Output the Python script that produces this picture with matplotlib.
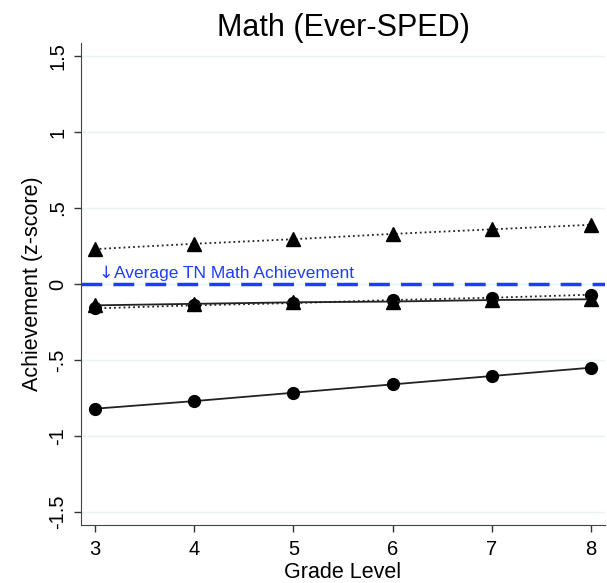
import matplotlib
matplotlib.use("Agg")
import matplotlib.pyplot as plt

plt.rcParams['font.family'] = ['Liberation Sans', 'DejaVu Sans']

grades = [3, 4, 5, 6, 7, 8]

# upper group, triangles on a dotted line
tri_dotted = [0.23, 0.265, 0.295, 0.33, 0.36, 0.39]
# middle group: triangles on a solid line, circles on a dotted line
tri_solid = [-0.14, -0.13, -0.12, -0.115, -0.105, -0.10]
circ_dotted = [-0.16, -0.14, -0.125, -0.105, -0.09, -0.07]
# lower group, circles on a solid line
circ_solid = [-0.82, -0.77, -0.715, -0.66, -0.605, -0.55]

yticks = [1.5, 1, 0.5, 0, -0.5, -1, -1.5]
ytick_labels = ["1.5", "1", ".5", "0", "-.5", "-1", "-1.5"]

fig = plt.figure(figsize=(6.07, 5.83), dpi=100)
ax = fig.add_axes([0.1334, 0.0995, 0.8633, 0.8265])

for y in yticks:
    ax.axhline(y, color='#eaf2f3', lw=1, zorder=0)

blue = '#1f3cff'
ax.axhline(0, color=blue, lw=2.5, ls=(0, (6, 3.2)), zorder=1)
ax.text(3.035, 0.04, "\u2193", color=blue, fontsize=12.5,
        family='DejaVu Sans', ha='left', va='baseline')
ax.text(3.195, 0.04, "Average TN Math Achievement", color=blue,
        fontsize=12.5, ha='left', va='baseline')

ax.plot(grades, tri_dotted, color='#222222', lw=1.3, ls=':', marker='^', ms=9.5,
        mfc='black', mec='black', zorder=3)
ax.plot(grades, circ_dotted, color='#222222', lw=1.3, ls=':', marker='o', ms=8.5,
        mfc='black', mec='black', zorder=3)
ax.plot(grades, tri_solid, color='#222222', lw=1.3, ls='-', marker='^', ms=9.5,
        mfc='black', mec='black', zorder=3)
ax.plot(grades, circ_solid, color='#222222', lw=1.3, ls='-', marker='o', ms=8.5,
        mfc='black', mec='black', zorder=3)

ax.set_xlim(2.86, 8.14)
ax.set_ylim(-1.585, 1.585)
ax.set_xticks(grades)
ax.set_yticks(yticks)
ax.set_yticklabels(ytick_labels, rotation=90, va='center')
ax.tick_params(axis='both', labelsize=14.5, length=5, width=1, color='#333333')
ax.tick_params(axis='x', pad=6)
ax.tick_params(axis='y', pad=5)
ax.spines['top'].set_visible(False)
ax.spines['right'].set_visible(False)
for s in ['left', 'bottom']:
    ax.spines[s].set_color('#444444')

ax.set_xlabel("Grade Level", fontsize=15.5, labelpad=2)
ax.set_ylabel("Achievement (z-score)", fontsize=15.5, labelpad=4)
ax.set_title("Math (Ever-SPED)", fontsize=22, pad=4)

fig.savefig("out.png", dpi=100)
